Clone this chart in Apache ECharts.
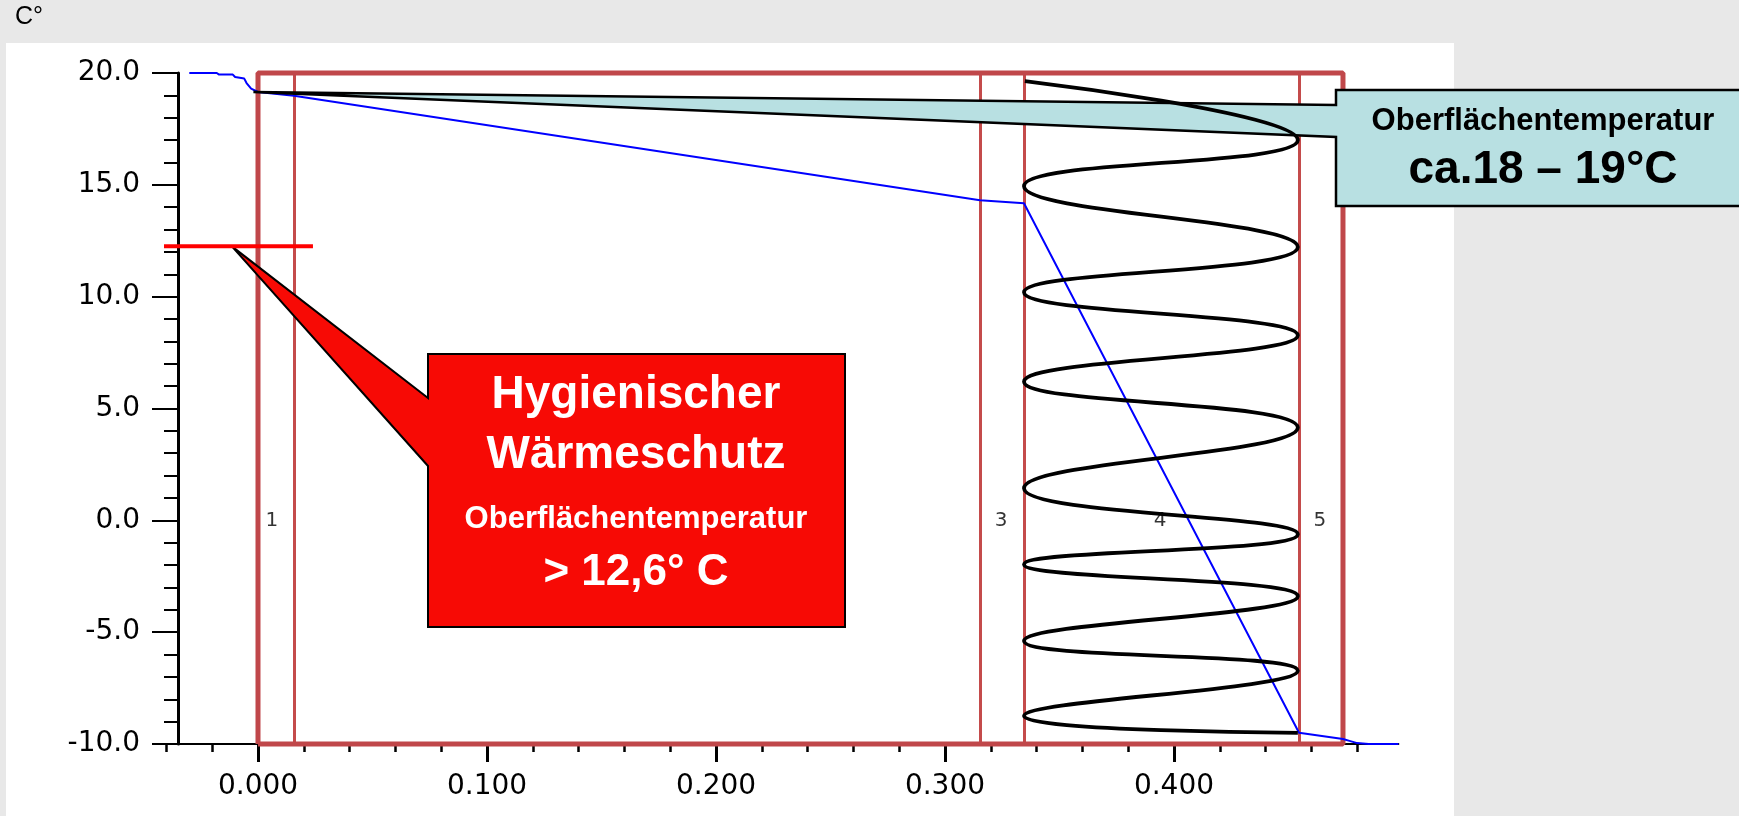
<!DOCTYPE html>
<html lang="de">
<head>
<meta charset="UTF-8">
<title>Temperaturverlauf Wand</title>
<script src="https://cdn.jsdelivr.net/npm/echarts@6/dist/echarts.min.js"></script>
<style>
  html, body { margin: 0; padding: 0; background: #e8e8e8; }
  #main { width: 1739px; height: 816px; }
</style>
</head>
<body>
<div id="main"></div>
<script>
  // Temperaturverlauf durch die Wand (x = Dicke in m, y = Temperatur in °C)
  var tempX = [-0.030, -0.018, -0.017, -0.011, -0.010, -0.006, -0.005, -0.003, 0.000, 0.0157, 0.3153, 0.3345, 0.4546, 0.4738, 0.477, 0.480, 0.485, 0.498];
  var tempY = [20.0, 20.0, 19.93, 19.93, 19.82, 19.75, 19.55, 19.3, 19.15, 18.98, 14.31, 14.18, -9.5, -9.78, -9.87, -9.96, -10.0, -10.0];

  // Daemmung (Wendepunkte der Schraffur-Linie)
  var insulX = [0.3349, 0.4541, 0.3345, 0.4541, 0.3345, 0.4541, 0.3345, 0.4541, 0.3345, 0.4541, 0.3345, 0.4541, 0.3345, 0.4541, 0.3345, 0.4541];
  var insulY = [19.64, 17.0, 14.94, 12.22, 10.2, 8.27, 6.2, 4.15, 1.44, -0.62, -1.97, -3.39, -5.4, -6.72, -8.75, -9.5];

  // Schichtgrenzen
  var layerBounds = [0, 0.0157, 0.3153, 0.3345, 0.4546, 0.4738];
  var layerNames = ['1', '3', '4', '5'];
  var layerLabelX = [0.0061, 0.3245, 0.3939, 0.4637];

  // Mindesttemperatur-Linie
  var limitX = [-0.0537, 0.024];
  var limitY = [12.25, 12.25];

  // Zeiger der Hinweise
  var redTip = [-0.0114, 12.25];
  var cyanTip = [-0.002, 19.15];

  // Achsen
  var xMajorTicks = [0, 0.1, 0.2, 0.3, 0.4];
  var xMinorTicks = [-0.04, -0.02, 0.02, 0.04, 0.06, 0.08, 0.12, 0.14, 0.16, 0.18, 0.22, 0.24, 0.26, 0.28, 0.32, 0.34, 0.36, 0.38, 0.42, 0.44, 0.46, 0.48];
  var yMin = -10, yMax = 20, yStep = 5;

  var tempData = tempX.map(function (x, i) { return [x, tempY[i]]; });
  var insulData = insulX.map(function (x, i) { return [x, insulY[i]]; });
  var limitData = limitX.map(function (x, i) { return [x, limitY[i]]; });
  var innerLines = layerBounds.slice(1, -1).map(function (x) {
    return { coords: [[x, yMin], [x, yMax]] };
  });
  var first = layerBounds[0], last = layerBounds[layerBounds.length - 1];
  var boxData = [[first, yMin], [first, yMax], [last, yMax], [last, yMin], [first, yMin]];
  var labelData = layerNames.map(function (n, i) { return { name: n, value: [layerLabelX[i], 0] }; });

  var myChart = echarts.init(document.getElementById('main'));
  var axisFont = 'DejaVu Sans';

  var option = {
    backgroundColor: '#e8e8e8',
    animation: false,
    grid: { left: 166.4, top: 73, width: 1232, height: 671, containLabel: false },
    xAxis: [
      {
        type: 'value', min: -0.04, max: 0.498,
        axisLine: { onZero: false, lineStyle: { color: '#000', width: 2 } },
        axisTick: { show: true, customValues: xMajorTicks, length: 18, lineStyle: { color: '#000', width: 3 } },
        axisLabel: {
          customValues: xMajorTicks, margin: 29, color: '#000',
          fontFamily: axisFont, fontSize: 28,
          formatter: function (v) { return v.toFixed(3); }
        },
        splitLine: { show: false }
      },
      {
        type: 'value', min: -0.04, max: 0.498, position: 'bottom',
        axisLine: { show: false, onZero: false },
        axisTick: { show: true, customValues: xMinorTicks, length: 8, lineStyle: { color: '#000', width: 2.5 } },
        axisLabel: { show: false, customValues: xMinorTicks },
        splitLine: { show: false }
      }
    ],
    yAxis: {
      type: 'value', min: yMin, max: yMax, interval: yStep, offset: -11.6,
      axisLine: { show: true, onZero: false, lineStyle: { color: '#000', width: 3 } },
      axisTick: { show: true, length: 26, lineStyle: { color: '#000', width: 2 } },
      minorTick: { show: true, splitNumber: 5, length: 14, lineStyle: { color: '#000', width: 2 } },
      axisLabel: {
        margin: 38, color: '#000', fontFamily: axisFont, fontSize: 28,
        formatter: function (v) { return v.toFixed(1); }
      },
      splitLine: { show: false },
      minorSplitLine: { show: false }
    },
    series: [
      {
        name: 'Schichtgrenzen', type: 'lines', coordinateSystem: 'cartesian2d',
        clip: false, z: 2, silent: true,
        lineStyle: { color: '#c44b4b', width: 3, opacity: 1, curveness: 0 },
        data: innerLines
      },
      {
        name: 'Wand', type: 'line', clip: false, z: 2, showSymbol: false, silent: true,
        lineStyle: { color: '#c0474a', width: 5 },
        data: boxData
      },
      {
        name: 'Temperatur', type: 'line', clip: false, z: 3, showSymbol: false,
        lineStyle: { color: '#0000ff', width: 2 },
        data: tempData
      },
      {
        name: 'Dämmung', type: 'line', clip: false, z: 5, showSymbol: false, smooth: 0.5,
        lineStyle: { color: '#000', width: 3.8 },
        data: insulData
      },
      {
        name: 'Mindesttemperatur', type: 'line', clip: false, z: 5, showSymbol: false,
        lineStyle: { color: '#ff0000', width: 4 },
        data: limitData
      },
      {
        name: 'Schicht', type: 'scatter', z: 3, symbolSize: 2, silent: true,
        itemStyle: { color: 'rgba(0,0,0,0)' },
        label: {
          show: true, position: 'inside', color: '#000',
          fontFamily: axisFont, fontSize: 20,
          formatter: function (p) { return p.name; }
        },
        data: labelData
      }
    ]
  };
  myChart.setOption(option);

  /* Hinweisfelder */
  var rt = myChart.convertToPixel({ gridIndex: 0 }, redTip);
  var ct = myChart.convertToPixel({ gridIndex: 0 }, cyanTip);
  var txtFont = 'Liberation Sans';

  function label(text, x, y, size, color) {
    return {
      type: 'text', z: 7, silent: true,
      style: {
        text: text, x: x, y: y, fill: color, align: 'center', verticalAlign: 'middle',
        font: 'bold ' + size + 'px "' + txtFont + '"'
      }
    };
  }

  myChart.setOption({
    graphic: [
      {
        type: 'rect', z: -1, silent: true,
        shape: { x: 6, y: 43, width: 1448, height: 800 },
        style: { fill: '#fff' }
      },
      {
        type: 'text', z: 7, silent: true,
        style: { text: 'C°', x: 15, y: 5, fill: '#000', font: '25px "' + txtFont + '"' }
      },
      {
        type: 'polygon', z: 4, silent: true,
        shape: { points: [rt, [428, 398], [428, 354], [845, 354], [845, 627], [428, 627], [428, 466]] },
        style: { fill: '#f70a05', stroke: '#000', lineWidth: 2 }
      },
      label('Hygienischer', 636, 395, 46, '#fff'),
      label('Wärmeschutz', 636, 455, 46, '#fff'),
      label('Oberflächentemperatur', 636, 519, 31, '#fff'),
      label('> 12,6° C', 636, 573, 44, '#fff'),
      {
        type: 'polygon', z: 4, silent: true,
        shape: { points: [ct, [1336, 105], [1336, 90], [1760, 90], [1760, 206], [1336, 206], [1336, 137]] },
        style: { fill: '#b8e0e2', stroke: '#000', lineWidth: 2.5 }
      },
      label('Oberflächentemperatur', 1543, 121, 31, '#000'),
      label('ca.18 – 19°C', 1543, 170, 46, '#000')
    ]
  });

  window.addEventListener('resize', function () {
    myChart.resize();
  });
</script>
</body>
</html>
